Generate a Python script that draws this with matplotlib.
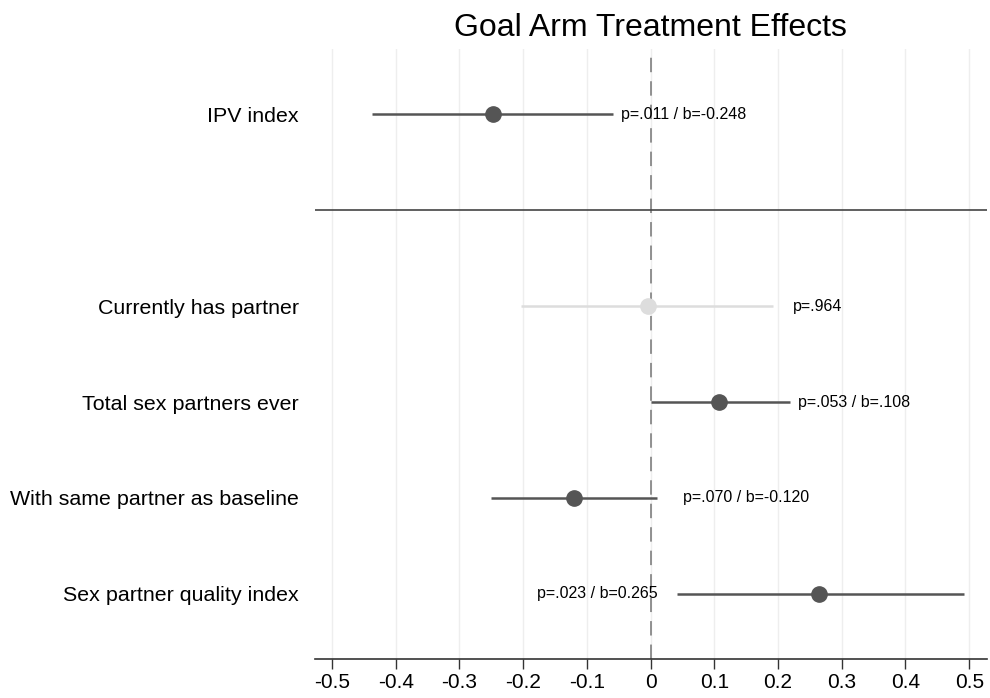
import numpy as np
import matplotlib.pyplot as plt

plt.rcParams["font.family"] = ["Liberation Sans", "DejaVu Sans"]

# ---- data (top to bottom) ----
outcomes = ["IPV index", "Currently has partner", "Total sex partners ever",
            "With same partner as baseline", "Sex partner quality index"]
coef     = [-0.248, -0.004, 0.108, -0.120, 0.265]
ci_low   = [-0.437, -0.203, 0.001, -0.250, 0.042]
ci_high  = [-0.059, 0.192, 0.219, 0.010, 0.492]
labels   = ["p=.011 / b=-0.248", "p=.964", "p=.053 / b=.108",
            "p=.070 / b=-0.120", "p=.023 / b=0.265"]
label_x  = [-0.046, 0.224, 0.232, 0.051, -0.178]
signif   = [True, False, True, True, True]
ypos     = [6, 4, 3, 2, 1]
sep_y    = 5
xticks   = np.round(np.arange(-0.5, 0.51, 0.1), 1)

dark  = "#555555"
light = "#dddddd"

fig = plt.figure(figsize=(9.9, 6.98), dpi=100)
ax = fig.add_axes([0.318, 0.056, 0.679, 0.874])

for t in xticks:
    ax.axvline(t, color="#eeeeee", lw=1.0, zorder=0)
ax.axvline(0, color="#888888", lw=1.3, dashes=(8, 5), zorder=1)
ax.axhline(sep_y, color="#444444", lw=1.2, zorder=2)

for y, b, lo, hi, s, lab, lx in zip(ypos, coef, ci_low, ci_high, signif, labels, label_x):
    c = dark if s else light
    ax.plot([lo, hi], [y, y], color=c, lw=1.8, zorder=3, solid_capstyle="butt")
    ax.plot(b, y, "o", color=c, ms=11, zorder=4)
    ax.text(lx, y, lab, fontsize=11.5, va="center", ha="left", zorder=5)

ax.set_xlim(-0.527, 0.528)
ax.set_ylim(0.323, 6.68)
ax.set_xticks(xticks)
ax.set_xticklabels(["0" if t == 0 else f"{t:g}" for t in xticks], fontsize=15)
ax.set_yticks(ypos)
ax.set_yticklabels(outcomes, fontsize=15.4)
ax.tick_params(axis="y", length=0, pad=11.5)
ax.tick_params(axis="x", length=7, width=1.0, color="#333333", pad=3)

for side in ["left", "right", "top"]:
    ax.spines[side].set_visible(False)
ax.spines["bottom"].set_color("#333333")
ax.spines["bottom"].set_linewidth(1.2)

fig.text(0.657, 0.96, "Goal Arm Treatment Effects", fontsize=23, ha="center", va="center")

fig.savefig("out.png", dpi=100)
